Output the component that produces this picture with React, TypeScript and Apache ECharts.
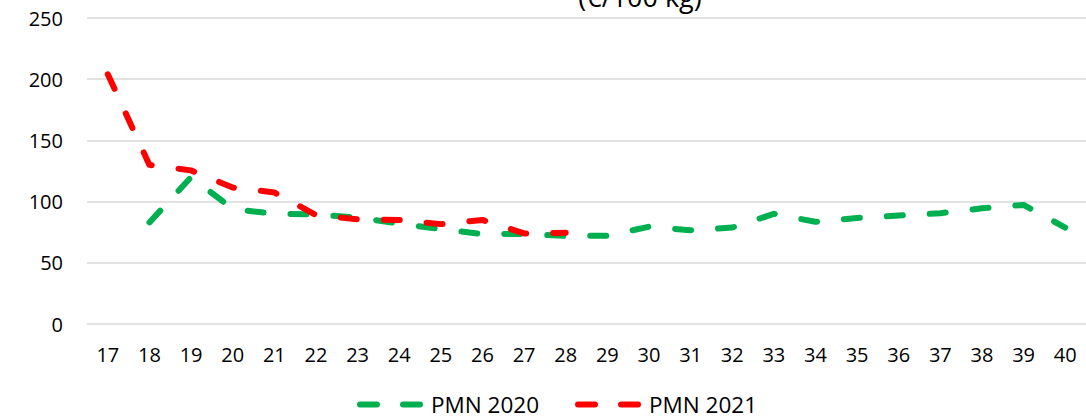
import React, { useEffect, useRef } from "react";
import * as echarts from "echarts";

const categories = ["17","18","19","20","21","22","23","24","25","26","27","28","29","30","31","32","33","34","35","36","37","38","39","40"];
const pmn2020 = [null, 83, 120, 94, 90, 89.5, 87, 82, 77.5, 73.5, 73.5, 72, 72, 79.5, 76.6, 78.8, 90, 83.5, 86.6, 88.6, 90.5, 94.5, 97.3, 78.8];
const pmn2021 = [204, 130, 125.5, 111.5, 107.5, 89, 85.5, 85, 81.6, 85, 74, 74.5, null, null, null, null, null, null, null, null, null, null, null, null];
const yTicks = { min: 0, max: 250, interval: 50 };
const seriesNames = ["PMN 2020", "PMN 2021"];
const titleText = "(€/100 kg)";

const FONT = '"Open Sans", "Noto Sans", sans-serif';

export default function App() {
  const ref = useRef<HTMLDivElement>(null);
  useEffect(() => {
    if (!ref.current) return;
    const chart = echarts.init(ref.current, undefined, { renderer: "svg" });
    const lineStyle = (color: string) => ({
      color,
      width: 6,
      type: [16, 27] as any,
      cap: "round" as const,
      join: "round" as const,
    });
    chart.setOption({
      animation: false,
      backgroundColor: "#ffffff",
      textStyle: { fontFamily: FONT },
      graphic: [
        {
          type: "text",
          x: 640,
          y: -4,
          style: {
            text: titleText,
            font: `27px ${FONT}`,
            fill: "#000000",
            align: "center",
            verticalAlign: "middle",
            textAlign: "center",
            textVerticalAlign: "middle",
          },
        },
      ],
      grid: { left: 87, right: -5, top: 18, bottom: 95, containLabel: false },
      xAxis: {
        type: "category",
        data: categories,
        boundaryGap: true,
        axisLine: { show: false },
        axisTick: { show: false },
        axisLabel: { color: "#000000", fontSize: 20, fontFamily: FONT, margin: 20, interval: 0 },
        splitLine: { show: false },
      },
      yAxis: {
        type: "value",
        min: yTicks.min,
        max: yTicks.max,
        interval: yTicks.interval,
        axisLine: { show: false },
        axisTick: { show: false },
        axisLabel: { color: "#000000", fontSize: 20, fontFamily: FONT, margin: 24 },
        splitLine: { lineStyle: { color: "#d9d9d9", width: 1.5 } },
      },
      legend: {
        data: seriesNames,
        left: 357,
        top: 393,
        padding: 0,
        itemWidth: 60,
        itemHeight: 14,
        itemGap: 36,
        itemStyle: { opacity: 0 },
        lineStyle: { width: 6, type: [17, 26] as any, cap: "round" },
        textStyle: { color: "#000000", fontSize: 22.5, lineHeight: 22, fontFamily: FONT, padding: [0, 0, 0, 6] },
      },
      series: [
        {
          name: seriesNames[0],
          type: "line",
          data: pmn2020,
          symbol: "none",
          smooth: false,
          connectNulls: false,
          color: "#00b050",
          lineStyle: lineStyle("#00b050"),
          z: 2,
        },
        {
          name: seriesNames[1],
          type: "line",
          data: pmn2021,
          symbol: "none",
          smooth: false,
          connectNulls: false,
          color: "#ff0000",
          lineStyle: lineStyle("#ff0000"),
          z: 3,
        },
      ],
    });
    return () => chart.dispose();
  }, []);
  return (
    <div style={{ position: "fixed", left: 0, top: 0, width: 1086, height: 419, overflow: "hidden", background: "#fff" }}>
      <div ref={ref} style={{ width: 1086, height: 419 }} />
    </div>
  );
}
